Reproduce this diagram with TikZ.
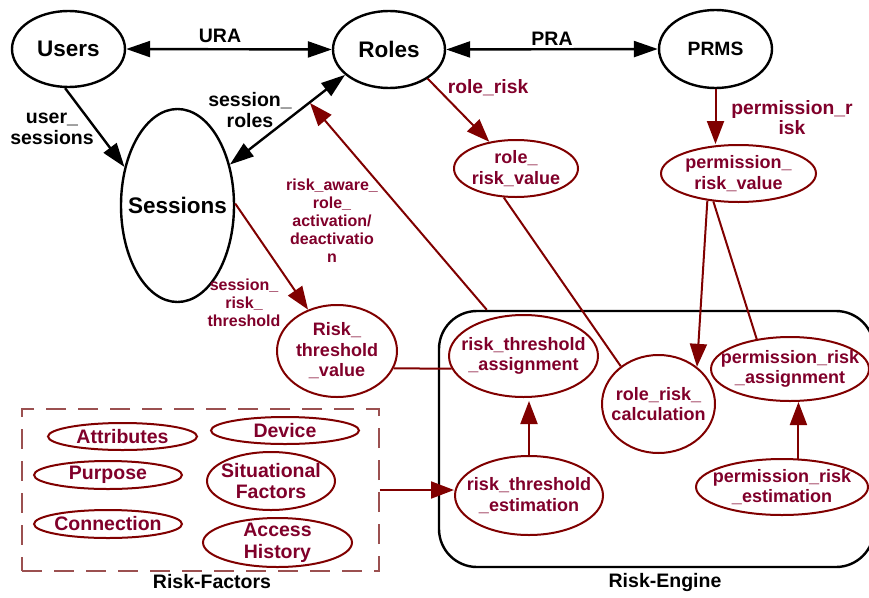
\documentclass[tikz,border=0pt]{standalone}
\usepackage{fontspec}
\setmainfont{Liberation Sans}
\usetikzlibrary{shapes.geometric,arrows.meta,calc}
\definecolor{rkline}{RGB}{128,0,0}
\definecolor{rktext}{RGB}{128,0,42}
\definecolor{rkdash}{RGB}{155,80,80}
\tikzset{
  blackell/.style={ellipse, draw=black, line width=2.4pt, inner sep=-20pt, align=center,
    font=\bfseries\fontsize{22.5}{24}\selectfont},
  riskell/.style={ellipse, draw=rkline, line width=2pt, inner sep=-20pt, text=rktext, align=center,
    font=\bfseries\fontsize{18}{20.5}\selectfont},
  factorell/.style={riskell, font=\bfseries\fontsize{19.5}{21.7}\selectfont},
  blklabel/.style={align=center, inner sep=0pt, font=\bfseries\fontsize{19.5}{21}\selectfont},
  redlabel/.style={align=center, inner sep=0pt, text=rktext, font=\bfseries\fontsize{19.3}{20}\selectfont},
  smalllabel/.style={redlabel, font=\bfseries\fontsize{16}{18}\selectfont},
  blackarr/.style={line width=2.4pt, {Triangle[length=24pt,width=16pt]}-{Triangle[length=24pt,width=16pt]}},
  blackone/.style={line width=2.4pt, -{Triangle[length=24pt,width=16pt]}},
  redone/.style={draw=rkline, line width=2pt, -{Triangle[length=23pt,width=17pt]}, rkline},
  redline/.style={draw=rkline, line width=2pt}
}
\begin{document}
\begin{tikzpicture}[x=1pt,y=-1pt]
\useasboundingbox (0,0) rectangle (869,597);
% boxes
\node[draw, line width=2.4pt, rounded corners=38pt, minimum width=435pt, minimum height=256pt, inner sep=0pt] (engine) at (656.5,439) {};
\node[draw=rkdash, line width=1.5pt, dash pattern=on 20pt off 12pt, minimum width=357pt, minimum height=162pt, inner sep=0pt] (factors) at (200.5,490) {};
\node[blklabel] (enginelbl) at (665,582) {Risk-Engine};
\node[blklabel] (factorslbl) at (212,582) {Risk-Factors};
% RBAC elements
\node[blackell, minimum width=113pt, minimum height=76pt] (users) at (68.5,49) {Users};
\node[blackell, minimum width=112pt, minimum height=77pt] (roles) at (389,49.5) {Roles};
\node[blackell, minimum width=113pt, minimum height=78pt, font=\bfseries\fontsize{19.3}{21}\selectfont] (prms) at (715.5,49) {PRMS};
\node[blackell, minimum width=113pt, minimum height=193pt] (sessions) at (177.5,205.5) {Sessions};
% risk values
\node[riskell, minimum width=124pt, minimum height=57pt] (rrv) at (516,168.5) {role\_\\risk\_value};
\node[riskell, minimum width=155pt, minimum height=57pt] (prv) at (738.5,173.5) {permission\_\\risk\_value};
\node[riskell, minimum width=120pt, minimum height=92pt] (rtv) at (337,351) {Risk\_\\threshold\\\_value};
% risk engine
\node[riskell, minimum width=149pt, minimum height=82pt] (rta) at (523.5,356) {risk\_threshold\\\_assignment};
\node[riskell, minimum width=113pt, minimum height=98pt] (rrc) at (658.5,404) {role\_risk\_\\calculation};
\node[riskell, minimum width=158pt, minimum height=64pt] (pra) at (790,369) {permission\_risk\\\_assignment};
\node[riskell, minimum width=148pt, minimum height=79pt] (rte) at (529,495.5) {risk\_threshold\\\_estimation};
\node[riskell, minimum width=172pt, minimum height=56pt] (pre) at (782,487) {permission\_risk\\\_estimation};
% risk factors
\node[factorell, minimum width=149pt, minimum height=27pt] (attr) at (122.5,436.5) {Attributes};
\node[factorell, minimum width=148pt, minimum height=27pt] (dev) at (285,430.5) {Device};
\node[factorell, minimum width=148pt, minimum height=28pt] (purp) at (108,475) {Purpose};
\node[factorell, minimum width=128pt, minimum height=58pt] (situ) at (271,481) {Situational\\Factors};
\node[factorell, minimum width=148pt, minimum height=28pt] (conn) at (108,524) {Connection};
\node[factorell, minimum width=149pt, minimum height=49pt] (acc) at (277.5,542.5) {Access\\History};
% connectors
\draw[blackarr] (users.east) -- (roles.west);
\draw[blackarr] (roles.east) -- (prms.west);
\draw[blackone] (users.-95) -- (sessions.144);
\draw[blackarr] (sessions.38) -- (roles.210);
\draw[redone] (roles.-37) -- (rrv.135);
\draw[redone] (prms.south) -- (prms.south |- prv.north);
\draw[redone] (sessions.2) -- (rtv.125);
\coordinate (acttip) at (310,103);
\draw[redone] ($(engine.north west)+(49,0)$) -- (acttip);
\draw[redline] (rrv.-113) -- (rrc.135);
\draw[redone] (prv.-139) -- (rrc.44);
\draw[redline] (prv.-132) -- (pra.138);
\draw[redline] (rtv.-17) -- (rta.190);
\draw[redone, shorten >=3pt] (rte.north) -- (rte.north |- rta.south);
\draw[redone] (pre.60) -- (pre.60 |- pra.south);
\draw[redone] (factors.east) -- (rte.west |- factors.east);
% labels
\node[blklabel] (ura) at (220,36) {URA};
\node[blklabel] (pra lbl) at (552,38.5) {PRA};
\node[blklabel] (us lbl) at (52,129) {user\_\\sessions};
\node[blklabel] (sr lbl) at (250,110) {session\_\\roles};
\node[redlabel] (rr lbl) at (488,88) {role\_risk};
\node[redlabel] (pr lbl) at (792,118) {permission\_r\\isk};
\node[smalllabel] (act lbl) at (332,221) {risk\_aware\_\\role\_\\activation/\\deactivatio\\n};
\node[smalllabel] (srt lbl) at (244,303) {session\_\\risk\_\\threshold};
\end{tikzpicture}
\end{document}
